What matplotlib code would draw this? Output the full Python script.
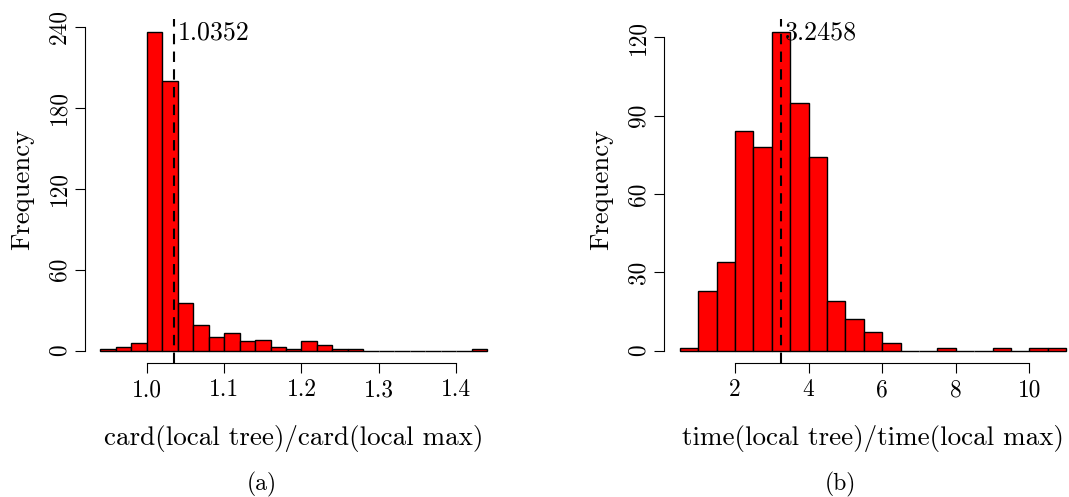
import matplotlib.pyplot as plt

plt.rcParams['font.family'] = ['cmr10', 'DejaVu Serif']
plt.rcParams['axes.formatter.use_mathtext'] = True

# (a) card(local tree)/card(local max), bin edges and counts
card_edges = [0.94, 0.96, 0.98, 1.00, 1.02, 1.04, 1.06, 1.08, 1.10, 1.12, 1.14, 1.16, 1.18,
              1.20, 1.22, 1.24, 1.26, 1.28, 1.30, 1.32, 1.34, 1.36, 1.38, 1.40, 1.42, 1.44]
card_counts = [1, 3, 6, 236, 200, 35, 19, 10, 13, 7, 8, 3, 1,
               7, 4, 1, 1, 0, 0, 0, 0, 0, 0, 0, 1]
card_mean = 1.0352
card_xticks = [1.0, 1.1, 1.2, 1.3, 1.4]
card_yticks = [0, 60, 120, 180, 240]

# (b) time(local tree)/time(local max)
time_edges = [0.5, 1.0, 1.5, 2.0, 2.5, 3.0, 3.5, 4.0, 4.5, 5.0, 5.5, 6.0, 6.5,
              7.0, 7.5, 8.0, 8.5, 9.0, 9.5, 10.0, 10.5, 11.0]
time_counts = [1, 23, 34, 84, 78, 122, 95, 74, 19, 12, 7, 3, 0,
               0, 1, 0, 0, 1, 0, 1, 1]
time_mean = 3.2458
time_xticks = [2, 4, 6, 8, 10]
time_yticks = [0, 30, 60, 90, 120]

W, H = 1069, 497
fig = plt.figure(figsize=(W / 100, H / 100), dpi=100)


def r_hist(rect, edges, counts, mean, xticks, yticks, xlabel, xfmt):
    ax = fig.add_axes(rect)
    widths = [b - a for a, b in zip(edges[:-1], edges[1:])]
    ax.bar(edges[:-1], counts, width=widths, align='edge',
           color='#ff0000', edgecolor='black', linewidth=1.0)

    # R style: ranges padded by 4%
    x0, x1 = edges[0], edges[-1]
    ax.set_xlim(x0 - 0.04 * (x1 - x0), x1 + 0.04 * (x1 - x0))
    top = max(counts)
    ax.set_ylim(-0.04 * top, top * 1.04)

    ax.axvline(mean, color='black', linestyle=(0, (5, 3.5)), linewidth=1.5)
    ax.annotate(f'{mean:.4f}', xy=(mean, top), xytext=(3, 0),
                textcoords='offset points', ha='left', va='center', fontsize=18.7)

    for s in ['top', 'right']:
        ax.spines[s].set_visible(False)
    ax.spines['left'].set_bounds(yticks[0], yticks[-1])
    ax.spines['bottom'].set_bounds(xticks[0], xticks[-1])
    ax.spines['left'].set_linewidth(0.8)
    ax.spines['bottom'].set_linewidth(0.8)

    ax.set_xticks(xticks)
    ax.set_xticklabels([xfmt.format(t) for t in xticks])
    ax.set_yticks(yticks)
    ax.set_yticklabels([str(t) for t in yticks], rotation=90, va='center')
    ax.tick_params(length=7, width=0.8, labelsize=16.8)
    ax.tick_params(axis='x', pad=4.5)
    ax.tick_params(axis='y', pad=3.5)

    ax.set_xlabel(xlabel, fontsize=19.5)
    ax.xaxis.set_label_coords(0.5, -(438 - 363.4) / 344)
    ax.xaxis.label.set_va('center')
    ax.set_ylabel('Frequency', fontsize=19.2)
    ax.yaxis.set_label_coords(-63 / 418, (363.4 - 189) / 344)
    ax.yaxis.label.set_va('center')
    return ax


r_hist([84.8 / W, (H - 363.4) / H, 417.9 / W, 344 / H], card_edges, card_counts,
       card_mean, card_xticks, card_yticks, 'card(local tree)/card(local max)', '{:.1f}')
r_hist([664.3 / W, (H - 363.4) / H, 417.4 / W, 344 / H], time_edges, time_counts,
       time_mean, time_xticks, time_yticks, 'time(local tree)/time(local max)', '{:d}')

fig.text(261.7 / W, 1 - 484 / H, '(a)', ha='center', va='center', fontsize=17)
fig.text(840.7 / W, 1 - 484 / H, '(b)', ha='center', va='center', fontsize=17)

fig.savefig('out.png', dpi=100)
